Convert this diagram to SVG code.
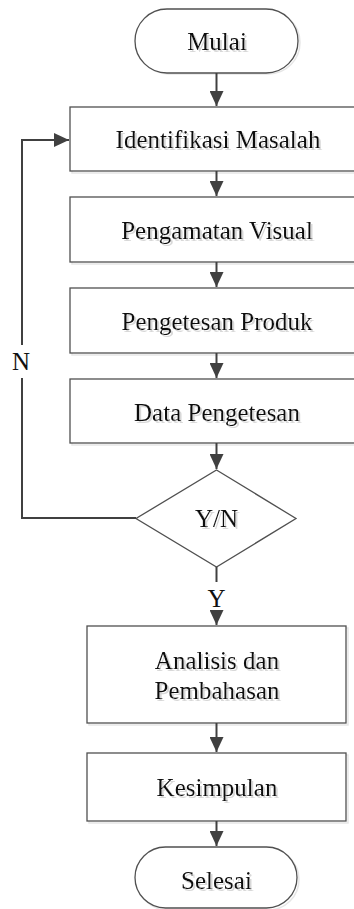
<svg xmlns="http://www.w3.org/2000/svg" width="354" height="909" viewBox="0 0 354 909">
<defs>
<marker id="ah" viewBox="0 0 15 14" refX="15" refY="7" markerWidth="7.5" markerHeight="7" markerUnits="strokeWidth" orient="auto"><path d="M0,0 L15,7 L0,14 z" fill="#404040"/></marker>
<filter id="sh" x="-10%" y="-10%" width="120%" height="130%"><feOffset in="SourceAlpha" dx="1.5" dy="1.5" result="o"/><feFlood flood-color="#d8d8d8"/><feComposite in2="o" operator="in" result="s"/><feMerge><feMergeNode in="s"/><feMergeNode in="SourceGraphic"/></feMerge></filter>
</defs>
<style>
.box{fill:#fff;stroke:#505050;stroke-width:1.3}
.bsh{fill:none;stroke:#e6e6e6;stroke-width:1.5}
.t{font-family:"Liberation Serif","Times New Roman",serif;font-size:25px;fill:#111;text-anchor:middle;filter:url(#sh)}
.c{fill:none;stroke:#404040;stroke-width:2}
</style>
<rect width="354" height="909" fill="#fff"/>
<g id="mulai">
<rect class="bsh" x="137" y="11" width="163" height="63" rx="31.5"/>
<rect class="box" x="135" y="9" width="163" height="64" rx="32"/>
<text class="t" x="217" y="50">Mulai</text>
</g>
<g id="identifikasi">
<rect class="bsh" x="72" y="109" width="300" height="64"/>
<rect class="box" x="70" y="107" width="300" height="64"/>
<text class="t" x="218" y="148">Identifikasi Masalah</text>
</g>
<g id="pengamatan">
<rect class="bsh" x="72" y="199" width="300" height="65"/>
<rect class="box" x="70" y="197" width="300" height="65"/>
<text class="t" x="217" y="239">Pengamatan Visual</text>
</g>
<g id="pengetesan">
<rect class="bsh" x="72" y="290" width="300" height="65"/>
<rect class="box" x="70" y="288" width="300" height="65"/>
<text class="t" x="217" y="330">Pengetesan Produk</text>
</g>
<g id="data">
<rect class="bsh" x="72" y="381" width="300" height="64"/>
<rect class="box" x="70" y="379" width="300" height="64"/>
<text class="t" x="217" y="421">Data Pengetesan</text>
</g>
<g id="decision">
<polygon class="box" points="216.5,470 296,518.5 216.5,567 136,518.5"/>
<text class="t" x="216.5" y="527">Y/N</text>
</g>
<g id="analisis">
<rect class="bsh" x="89" y="628" width="259" height="97"/>
<rect class="box" x="87" y="626" width="259" height="97"/>
<text class="t" x="217" y="669">Analisis dan</text>
<text class="t" x="217" y="699">Pembahasan</text>
</g>
<g id="kesimpulan">
<rect class="bsh" x="89" y="755" width="259" height="68"/>
<rect class="box" x="87" y="753" width="259" height="68"/>
<text class="t" x="217" y="796">Kesimpulan</text>
</g>
<g id="selesai">
<rect class="bsh" x="137" y="849" width="162" height="61" rx="30.5"/>
<rect class="box" x="135" y="847" width="162" height="61" rx="30.5"/>
<text class="t" x="216.5" y="889">Selesai</text>
</g>
<g id="connectors">
<line class="c" x1="216.5" y1="73" x2="216.5" y2="106" marker-end="url(#ah)"/>
<line class="c" x1="216.5" y1="171" x2="216.5" y2="196" marker-end="url(#ah)"/>
<line class="c" x1="216.5" y1="262" x2="216.5" y2="287" marker-end="url(#ah)"/>
<line class="c" x1="216.5" y1="353" x2="216.5" y2="378" marker-end="url(#ah)"/>
<line class="c" x1="216.5" y1="443" x2="216.5" y2="469" marker-end="url(#ah)"/>
<polyline class="c" points="136,518 22,518 22,378"/>
<polyline class="c" points="22,345 22,140 69,140" marker-end="url(#ah)"/>
<text class="t" x="21" y="370" style="filter:none">N</text>
<line class="c" x1="216.5" y1="567" x2="216.5" y2="582"/>
<text class="t" x="216.5" y="607" style="filter:none">Y</text>
<line class="c" x1="216.5" y1="612" x2="216.5" y2="625" marker-end="url(#ah)"/>
<line class="c" x1="216.5" y1="723" x2="216.5" y2="752" marker-end="url(#ah)"/>
<line class="c" x1="216.5" y1="821" x2="216.5" y2="846" marker-end="url(#ah)"/>
</g>
</svg>
